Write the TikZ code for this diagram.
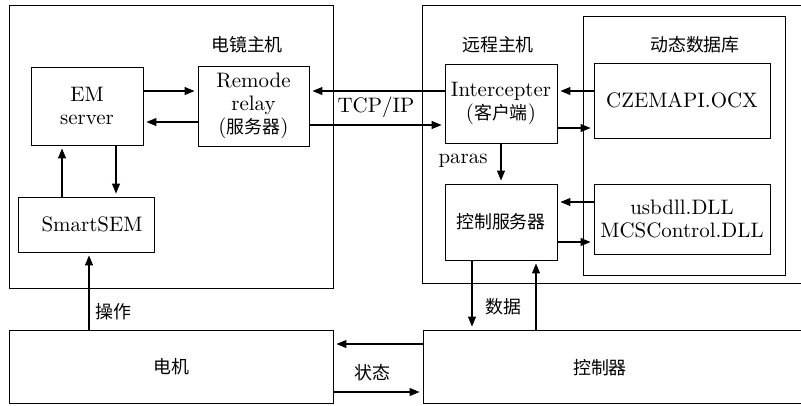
\documentclass[tikz,border=0pt]{standalone}
\usepackage{fontspec}
\setmainfont{lmroman10-regular}[Extension=.otf]
\newfontfamily\cjkfont{Noto Sans CJK SC}
\usetikzlibrary{arrows.meta}
\newcommand{\zh}[1]{{\cjkfont\fontsize{18}{23}\selectfont #1}}

\begin{document}
\begin{tikzpicture}[x=1bp, y=-1bp,
  font=\fontsize{21}{23}\selectfont,
  box/.style={draw, line width=0.9bp, inner sep=0pt, align=center},
  arr/.style={-{Triangle[length=10bp,width=8bp]}, line width=1.1bp, shorten >=3bp},
  lbl/.style={inner sep=0pt}]
\useasboundingbox (0,0) rectangle (801,405);
\clip (0,0) rectangle (801,405);

% containers
\node[box, minimum width=324bp, minimum height=283bp] (hostL) at (171,146.5) {};
\node[box, minimum width=420bp, minimum height=278bp] (hostR) at (632,144) {};
\node[box, minimum width=202bp, minimum height=259bp] (db) at (684,145.5) {};

% microscope host
\node[box, minimum width=112bp, minimum height=78bp] (em) at (87,106) {EM\\server};
\node[box, minimum width=111bp, minimum height=80bp] (relay) at (253.5,106) {Remode\\relay\\(\zh{服务器})};
\node[box, minimum width=136bp, minimum height=55bp] (smart) at (86,224.5) {\hspace*{12bp}SmartSEM};

% remote host
\node[box, minimum width=112bp, minimum height=79bp] (inter) at (501,103.5) {Intercepter\\(\zh{客户端})};
\node[box, minimum width=112bp, minimum height=76bp] (srv) at (501,222) {\zh{控制服务器}};
\node[box, minimum width=176bp, minimum height=75bp] (czem) at (682,100.5) {CZEMAPI.OCX};
\node[box, minimum width=176bp, minimum height=70bp] (usb) at (682,219) {usbdll.DLL\\MCSControl.DLL};

% hardware
\node[box, minimum width=324bp, minimum height=73bp] (motor) at (171,366.5) {\zh{电机}};
\node[box, minimum width=420bp, minimum height=73bp,
  label={[lbl, xshift=-33bp, yshift=-1.5bp]center:\zh{控制器}}] (ctrl) at (633,366.5) {};

% titles and connector labels
\node[lbl] (tL) at (247,45) {\zh{电镜主机}};
\node[lbl] (tR) at (498,45) {\zh{远程主机}};
\node[lbl] (tDB) at (695,45) {\zh{动态数据库}};
\node[lbl] (tcp) at (376,107) {TCP/IP};
\node[lbl] (paras) at (463,161) {paras};
\node[lbl] (op) at (113,312) {\zh{操作}};
\node[lbl] (data) at (503,307) {\zh{数据}};
\node[lbl] (state) at (372,373) {\zh{状态}};

% connectors
\draw[arr] (em.east |- 0,91) -- (relay.west |- 0,91);
\draw[arr] (relay.west |- 0,122) -- (em.east |- 0,122);
\draw[arr] (inter.west |- 0,91) -- (relay.east |- 0,91);
\draw[arr] (relay.east |- 0,125) -- (inter.west |- 0,125);
\draw[arr] (czem.west |- 0,91) -- (inter.east |- 0,91);
\draw[arr] (inter.east |- 0,128) -- (czem.west |- 0,128);
\draw[arr] (usb.west |- 0,202) -- (srv.east |- 0,202);
\draw[arr] (srv.east |- 0,242) -- (usb.west |- 0,242);
\draw[arr] (inter.south) -- (srv.north);
\draw[arr] (srv.south -| 472,0) -- (ctrl.north -| 472,0);
\draw[arr] (ctrl.north -| 536,0) -- (srv.south -| 536,0);
\draw[arr] (em.south -| 116,0) -- (smart.north -| 116,0);
\draw[arr] (smart.north -| 62,0) -- (em.south -| 62,0);
\draw[arr] (motor.north -| 89,0) -- (smart.south -| 89,0);
\draw[arr] (ctrl.west |- 0,344) -- (motor.east |- 0,344);
\draw[arr] (motor.east |- 0,392) -- (ctrl.west |- 0,392);
\end{tikzpicture}
\end{document}
